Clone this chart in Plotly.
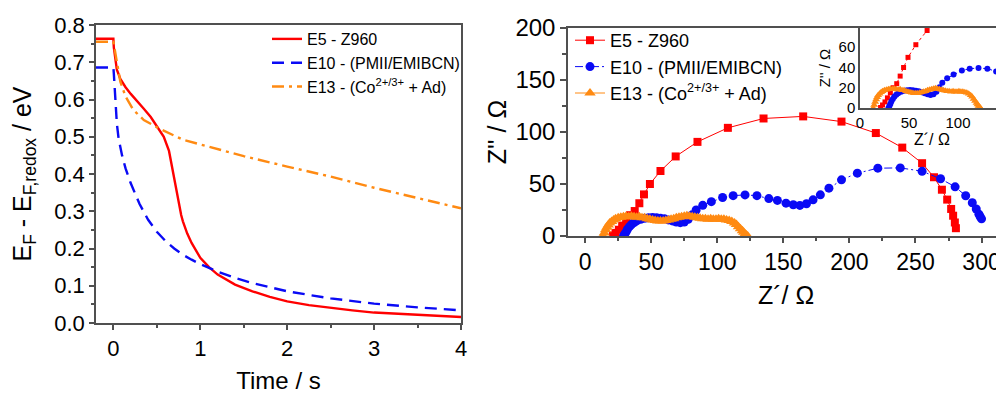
import plotly.graph_objects as go

# ---------------- Left panel: Fermi level decay ----------------
t_e5 = [-0.2, 0.0, 0.005, 0.02, 0.04, 0.08, 0.14, 0.2, 0.27, 0.35, 0.43, 0.52, 0.58, 0.64, 0.67, 0.7,
        0.72, 0.75, 0.78, 0.8, 0.85, 0.9, 1.0, 1.1, 1.2, 1.4, 1.6, 1.8, 2.0, 2.25, 2.5, 2.75, 3.0, 3.5, 4.0]
v_e5 = [0.763, 0.763, 0.74, 0.71, 0.68, 0.655, 0.633, 0.615, 0.595, 0.575, 0.553, 0.523, 0.50, 0.462, 0.425, 0.39,
        0.36, 0.32, 0.29, 0.273, 0.24, 0.215, 0.175, 0.15, 0.13, 0.103, 0.085, 0.07, 0.058, 0.048, 0.04, 0.034, 0.028, 0.021, 0.016]

t_e10 = [-0.2, 0.0, 0.005, 0.01, 0.02, 0.04, 0.06, 0.08, 0.1, 0.14, 0.2, 0.3, 0.4, 0.5, 0.6, 0.7, 0.8, 0.9,
         1.0, 1.2, 1.4, 1.6, 1.8, 2.0, 2.5, 3.0, 3.5, 4.0]
v_e10 = [0.686, 0.686, 0.67, 0.645, 0.60, 0.535, 0.495, 0.47, 0.45, 0.415, 0.375, 0.32, 0.277, 0.245, 0.22, 0.20, 0.183, 0.17,
         0.158, 0.138, 0.121, 0.107, 0.095, 0.085, 0.066, 0.052, 0.042, 0.034]

t_e13 = [-0.2, 0.0, 0.02, 0.04, 0.08, 0.14, 0.23, 0.35, 0.52, 0.8, 1.1, 1.5, 2.0, 2.5, 3.0, 3.5, 4.0]
v_e13 = [0.755, 0.755, 0.728, 0.697, 0.648, 0.608, 0.572, 0.545, 0.523, 0.492, 0.473, 0.448, 0.42, 0.393, 0.363, 0.335, 0.308]

# ---------------- Right panel: Nyquist plot ----------------
zr_e5 = [21, 23, 25.5, 28, 31, 34, 37.5, 41, 44.5, 49, 57, 68.5, 85, 108, 135, 165, 194, 220, 240, 255,
         264, 270, 274, 277, 278.5, 279.8, 280.6]
zi_e5 = [0.5, 3, 6, 10, 15, 20, 24, 31.5, 40, 50, 62.5, 76.5, 90.5, 104, 113, 115, 110, 99, 85, 70,
         56.5, 44.5, 35, 26, 19.5, 13, 7.5]

zr_e10 = [29, 30, 31, 32, 33.5, 35, 37, 39, 42, 45, 48, 51, 54, 57, 60, 63, 66, 69, 72, 75, 78, 81, 84, 89,
          95.5, 104, 112, 121, 130, 139, 145.5, 152, 157.5, 162.5, 167.5, 172.5, 178, 184.5, 194, 206, 221.5,
          238.5, 255, 269, 280, 288, 293, 296, 298, 299, 300]
zi_e10 = [0, 2, 4, 6.5, 9, 11, 13, 14.5, 16, 17, 17.5, 17.8, 17.5, 17, 16.5, 15.5, 14.5, 13.5, 12.8, 13.5, 16, 20.5, 25, 29.5,
          33, 37, 38.8, 39.5, 38.8, 36, 34.2, 31.6, 30, 29.4, 31, 34.8, 39.6, 46, 54, 60.4, 65.2,
          65.5, 62.3, 55, 47.3, 38.7, 32, 26, 21, 18.5, 16.5]

zr_e13 = [13.5, 14.5, 15.5, 16.5, 17.5, 18.5, 20, 21.5, 23, 25, 27, 29, 31, 33, 35, 37, 39, 41, 43, 45, 47, 49,
          51, 53, 55, 57, 59, 61, 63, 65, 67, 69, 71, 73, 75, 77, 79, 81, 83, 85, 87, 89, 91, 93, 95, 97, 99,
          101, 103, 105, 107, 109, 111, 113, 114.5, 116, 117.5, 119, 120, 121, 122, 123]
zi_e13 = [0, 3, 6, 8.5, 10.5, 12.5, 14, 15.5, 16.5, 17.5, 18, 18.5, 19, 18.5, 19, 18.5, 18, 18.5, 17.5, 17.5, 16.5, 16,
          15.5, 15, 14.5, 14.5, 14.5, 15, 15.5, 16, 16.5, 17.5, 18, 18.5, 19, 19.5, 19, 18.5, 18, 17.5, 17, 16.5,
          16.5, 16, 16.5, 16, 16, 16.5, 16, 16, 15.5, 15, 14, 12.5, 11, 9, 7, 5, 3.5, 2, 1, 0]

names = ["E5 - Z960", "E10 - (PMII/EMIBCN)", "E13 - (Co<sup>2+/3+</sup> + Ad)"]

RED = "#FF0000"
BLUE = "#0A0AF5"
ORANGE = "#FF8A12"
FONT = "Liberation Sans, Arial, sans-serif"
AX = "#505050"

fig = go.Figure()

# left panel
fig.add_trace(go.Scatter(x=t_e5, y=v_e5, mode="lines", name=names[0], legend="legend",
                         line=dict(color=RED, width=2.4), xaxis="x", yaxis="y"))
fig.add_trace(go.Scatter(x=t_e10, y=v_e10, mode="lines", name=names[1], legend="legend",
                         line=dict(color=BLUE, width=2.4, dash="12px,7px"), xaxis="x", yaxis="y"))
fig.add_trace(go.Scatter(x=t_e13, y=v_e13, mode="lines", name=names[2], legend="legend",
                         line=dict(color=ORANGE, width=2.4, dash="12px,5px,3px,5px"), xaxis="x", yaxis="y"))

# right panel
fig.add_trace(go.Scatter(x=zr_e5, y=zi_e5, mode="lines+markers", name=names[0], legend="legend2",
                         line=dict(color=RED, width=1), marker=dict(symbol="square", size=8, color=RED),
                         xaxis="x2", yaxis="y2"))
fig.add_trace(go.Scatter(x=zr_e10, y=zi_e10, mode="lines+markers", name=names[1], legend="legend2",
                         line=dict(color=BLUE, width=1, dash="8px,3px,2px,3px"),
                         marker=dict(symbol="circle", size=9, color=BLUE),
                         xaxis="x2", yaxis="y2"))
fig.add_trace(go.Scatter(x=zr_e13, y=zi_e13, mode="lines+markers", name=names[2], legend="legend2",
                         line=dict(color=ORANGE, width=1), marker=dict(symbol="triangle-up", size=10, color=ORANGE),
                         xaxis="x2", yaxis="y2"))

# inset
fig.add_trace(go.Scatter(x=zr_e5, y=zi_e5, mode="lines+markers", showlegend=False,
                         line=dict(color=RED, width=1, dash="dot"), marker=dict(symbol="square", size=5, color=RED),
                         xaxis="x3", yaxis="y3"))
fig.add_trace(go.Scatter(x=zr_e10, y=zi_e10, mode="lines+markers", showlegend=False,
                         line=dict(color=BLUE, width=1, dash="dot"), marker=dict(symbol="circle", size=6, color=BLUE),
                         xaxis="x3", yaxis="y3"))
fig.add_trace(go.Scatter(x=zr_e13, y=zi_e13, mode="lines+markers", showlegend=False,
                         line=dict(color=ORANGE, width=1), marker=dict(symbol="triangle-up", size=7, color=ORANGE),
                         xaxis="x3", yaxis="y3"))

# The page body has an 8 px margin, so the figure is drawn 8 px in from the window's corner.
OFF = 8
W, H = 1004 - OFF, 394 - OFF

def px_x(a, b):
    return [(a - OFF) / W, (b - OFF) / W]

def px_y(top, bottom):
    return [1 - (bottom - OFF) / H, 1 - (top - OFF) / H]

def axis(size, **kw):
    d = dict(showgrid=False, zeroline=False, showline=True, linecolor=AX, linewidth=1.5,
             tickcolor=AX, automargin=False, tickfont=dict(family=FONT, color="black", size=size))
    d.update(kw)
    return d

fig.update_layout(
    template="none",
    width=W, height=H, margin=dict(l=0, r=0, t=0, b=0, pad=0),
    paper_bgcolor="white", plot_bgcolor="rgba(0,0,0,0)",
    font=dict(family=FONT, color="black"),
    xaxis=axis(22, domain=px_x(96, 461), range=[-0.2, 4], anchor="y", mirror=True,
               ticks="outside", ticklen=5, tickwidth=1.5, dtick=1, tick0=0,
               minor=dict(ticks="outside", ticklen=3, dtick=0.5, tick0=0, tickcolor=AX, tickwidth=1.5),
               title=dict(text="Time / s", font=dict(size=24, family=FONT), standoff=16)),
    yaxis=axis(22, domain=px_y(25, 323), range=[0, 0.8], anchor="x", mirror=True,
               ticks="outside", ticklen=5, tickwidth=1.5, dtick=0.1, tick0=0, tickformat=".1f",
               minor=dict(ticks="outside", ticklen=3, dtick=0.05, tick0=0, tickcolor=AX, tickwidth=1.5),
               title=dict(text="E<sub>F</sub> - E<sub>F,redox</sub> / eV", font=dict(size=25, family=FONT), standoff=17)),
    xaxis2=axis(23, domain=px_x(568, 1004), range=[-13, 317], anchor="y2", mirror=True,
                ticks="outside", ticklen=5, tickwidth=1.5, dtick=50, tick0=0,
                minor=dict(ticks="outside", ticklen=3, dtick=25, tick0=0, tickcolor=AX, tickwidth=1.5),
                title=dict(text="Z´/ Ω", font=dict(size=25, family=FONT), standoff=12)),
    yaxis2=axis(24, domain=px_y(28, 236), range=[0, 200], anchor="x2",
                ticks="outside", ticklen=6, tickwidth=1.5, dtick=50, tick0=0,
                minor=dict(ticks="outside", ticklen=4, dtick=25, tick0=0, tickcolor=AX, tickwidth=1.5),
                title=dict(text="Z'' / Ω", font=dict(size=25, family=FONT), standoff=2)),
    xaxis3=axis(15, domain=px_x(860, 1004), range=[0, 147], anchor="y3",
                ticks="", dtick=50, tick0=0,
                title=dict(text="Z´/ Ω", font=dict(size=16, family=FONT), standoff=2)),
    yaxis3=axis(15, domain=px_y(28, 108), range=[0, 79], anchor="x3",
                ticks="", dtick=20, tick0=0,
                title=dict(text="Z'' / Ω", font=dict(size=15, family=FONT), standoff=4)),
    legend=dict(x=259 / W, y=1 - 14 / H, xanchor="left", yanchor="top", bgcolor="rgba(0,0,0,0)",
                font=dict(size=16, family=FONT), tracegroupgap=0, itemwidth=30, borderwidth=0),
    legend2=dict(x=562 / W, y=1 - 14 / H, xanchor="left", yanchor="top", bgcolor="rgba(0,0,0,0)",
                 font=dict(size=18, family=FONT), tracegroupgap=0, itemwidth=30, borderwidth=0),
)

fig.write_html("out.html")
